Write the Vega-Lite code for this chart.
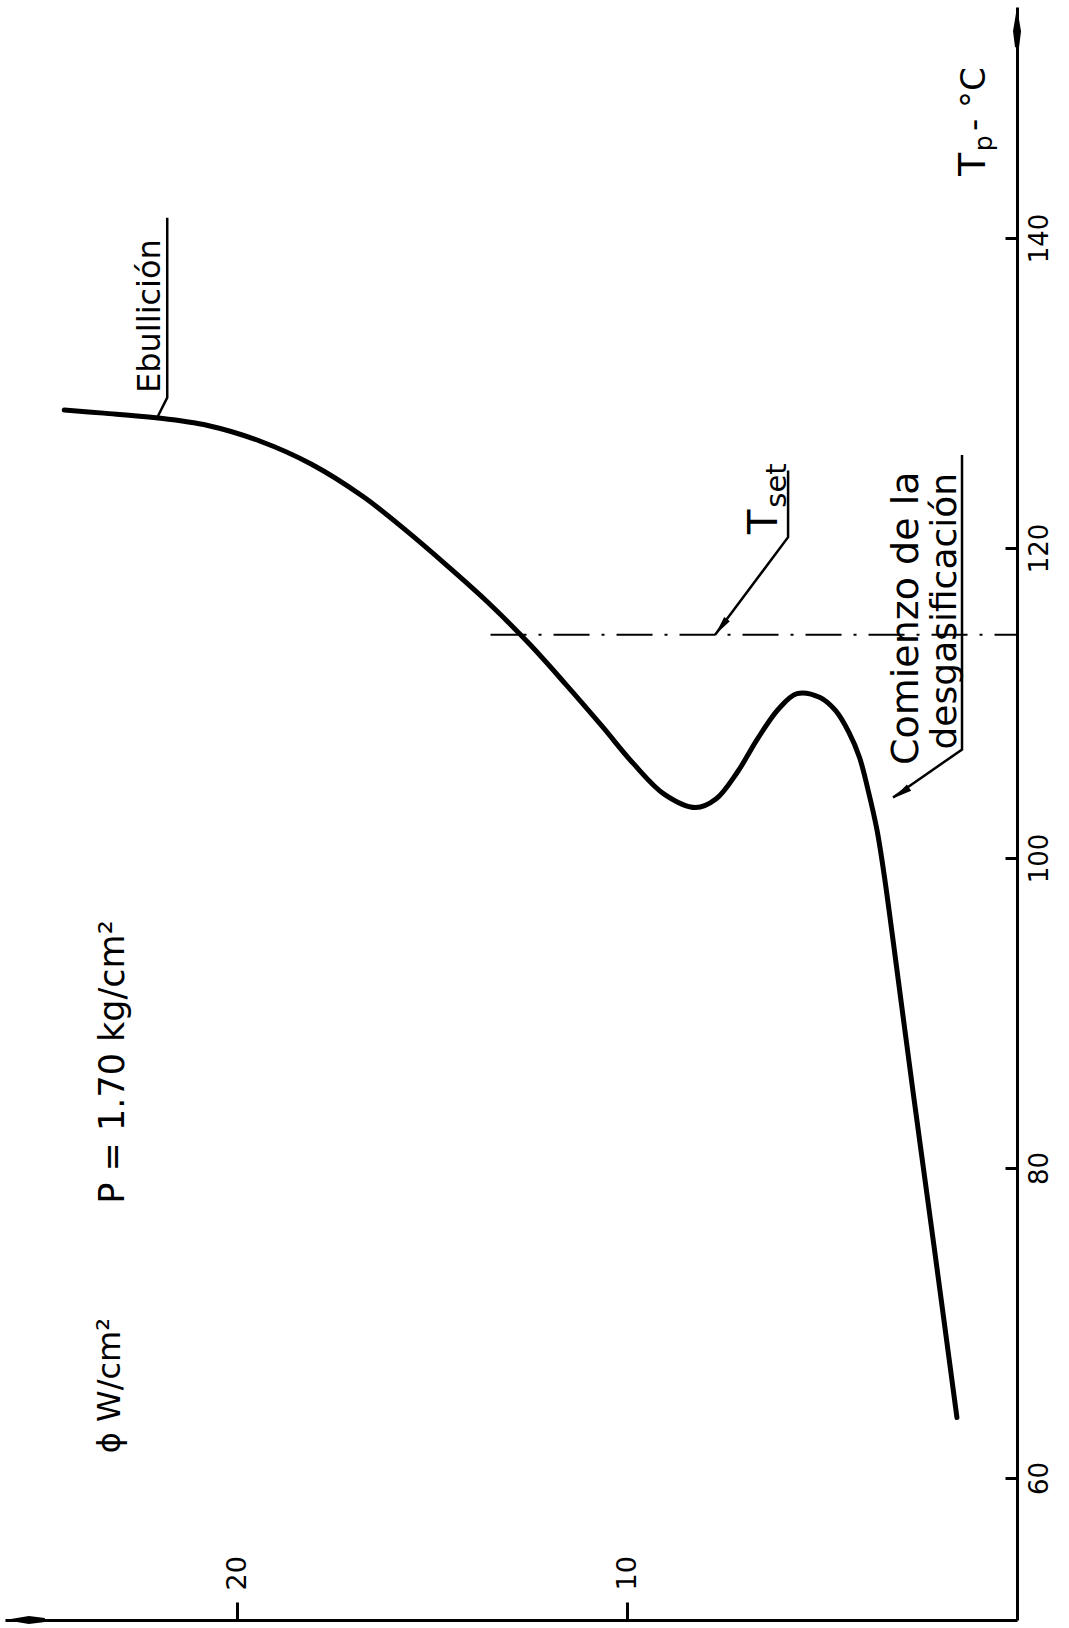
{
  "$schema": "https://vega.github.io/schema/vega-lite/v6.json",
  "width": 1012,
  "height": 1613,
  "autosize": "none",
  "padding": {"left": 5, "top": 7, "right": 52, "bottom": 8},
  "background": "white",
  "config": {
    "view": {"stroke": null},
    "text": {"font": "DejaVu Sans", "color": "black"}
  },
  "encoding": {
    "x": {
      "field": "phi", "type": "quantitative",
      "scale": {"domain": [0, 25.95], "reverse": true, "nice": false, "zero": false},
      "axis": {
        "orient": "bottom", "title": null, "grid": false, "values": [10, 20],
        "domainColor": "black", "domainWidth": 3,
        "tickColor": "black", "tickWidth": 3, "tickSize": -18,
        "labelAngle": -90, "labelAlign": "left", "labelBaseline": "middle",
        "labelPadding": -12, "labelFontSize": 27, "labelFont": "DejaVu Sans",
        "labelColor": "black", "labelFlush": false, "labelOverlap": false
      }
    },
    "y": {
      "field": "T", "type": "quantitative",
      "scale": {"domain": [50.84, 154.9], "nice": false, "zero": false},
      "axis": {
        "orient": "right", "title": null, "grid": false, "values": [60, 80, 100, 120, 140],
        "domainColor": "black", "domainWidth": 3,
        "tickColor": "black", "tickWidth": 3, "tickSize": -12,
        "labelAngle": -90, "labelAlign": "center", "labelBaseline": "top",
        "labelPadding": 21, "labelFontSize": 26, "labelFont": "DejaVu Sans",
        "labelColor": "black", "labelFlush": false, "labelOverlap": false
      }
    }
  },
  "layer": [
    {
      "data": {"values": [
        {"i": 1, "phi": 1.54, "T": 63.9},
        {"i": 2, "phi": 2.13, "T": 75.0},
        {"i": 3, "phi": 2.67, "T": 85.0},
        {"i": 4, "phi": 3.2, "T": 95.1},
        {"i": 5, "phi": 3.38, "T": 98.45},
        {"i": 6, "phi": 3.59, "T": 101.8},
        {"i": 7, "phi": 3.83, "T": 104.5},
        {"i": 8, "phi": 4.04, "T": 106.5},
        {"i": 9, "phi": 4.31, "T": 108.1},
        {"i": 10, "phi": 4.65, "T": 109.5},
        {"i": 11, "phi": 5.05, "T": 110.35},
        {"i": 12, "phi": 5.64, "T": 110.6},
        {"i": 13, "phi": 6.12, "T": 109.6},
        {"i": 14, "phi": 6.65, "T": 107.7},
        {"i": 15, "phi": 7.18, "T": 105.5},
        {"i": 16, "phi": 7.72, "T": 103.8},
        {"i": 17, "phi": 8.24, "T": 103.25},
        {"i": 18, "phi": 9.04, "T": 104.1},
        {"i": 19, "phi": 9.84, "T": 106.1},
        {"i": 20, "phi": 10.64, "T": 108.5},
        {"i": 21, "phi": 11.57, "T": 111.2},
        {"i": 22, "phi": 12.5, "T": 113.8},
        {"i": 23, "phi": 13.57, "T": 116.5},
        {"i": 24, "phi": 14.63, "T": 118.9},
        {"i": 25, "phi": 15.7, "T": 121.2},
        {"i": 26, "phi": 16.76, "T": 123.3},
        {"i": 27, "phi": 18.09, "T": 125.4},
        {"i": 28, "phi": 19.42, "T": 126.9},
        {"i": 29, "phi": 20.75, "T": 127.9},
        {"i": 30, "phi": 22.08, "T": 128.4},
        {"i": 31, "phi": 23.42, "T": 128.7},
        {"i": 32, "phi": 24.43, "T": 128.9}
      ]},
      "mark": {"type": "line", "color": "black", "strokeWidth": 5, "interpolate": "catmull-rom", "strokeCap": "round", "strokeJoin": "round"},
      "encoding": {"order": {"field": "i", "type": "quantitative"}}
    },
    {
      "data": {"values": [
        {"i": 1, "phi": 13.5, "T": 114.4},
        {"i": 2, "phi": 0, "T": 114.4}
      ]},
      "mark": {"type": "line", "color": "black", "strokeWidth": 2, "strokeDash": [36, 12, 3, 12]},
      "encoding": {"order": {"field": "i", "type": "quantitative"}}
    },
    {
      "data": {"values": [
        {"g": "eb", "i": 1, "phi": 22.03, "T": 128.5},
        {"g": "eb", "i": 2, "phi": 21.79, "T": 129.7},
        {"g": "eb", "i": 3, "phi": 21.79, "T": 141.3},
        {"g": "ts", "i": 1, "phi": 5.87, "T": 125.0},
        {"g": "ts", "i": 2, "phi": 5.87, "T": 120.7},
        {"g": "ts", "i": 3, "phi": 7.74, "T": 114.4},
        {"g": "co", "i": 1, "phi": 1.41, "T": 126.0},
        {"g": "co", "i": 2, "phi": 1.41, "T": 107.0},
        {"g": "co", "i": 3, "phi": 3.18, "T": 103.9}
      ]},
      "mark": {"type": "line", "color": "black", "strokeWidth": 2.5},
      "encoding": {
        "detail": {"field": "g", "type": "nominal"},
        "order": {"field": "i", "type": "quantitative"}
      }
    },
    {
      "data": {"values": [{"phi": 7.59, "T": 114.9}]},
      "mark": {"type": "point", "shape": "M0,-1L0.35,1L-0.35,1Z", "angle": 217, "size": 400, "filled": true, "color": "black", "opacity": 1}
    },
    {
      "data": {"values": [{"phi": 2.97, "T": 104.2}]},
      "mark": {"type": "point", "shape": "M0,-1L0.4,1L-0.4,1Z", "angle": 236, "size": 360, "filled": true, "color": "black", "opacity": 1}
    },
    {
      "data": {"values": [{"phi": 0, "T": 153.6}]},
      "mark": {"type": "point", "shape": "M0,-1L0.2,0.2L0.1,1L-0.1,1L-0.2,0.2Z", "angle": 0, "size": 1600, "filled": true, "color": "black", "opacity": 1}
    },
    {
      "data": {"values": [{"phi": 25.44, "T": 50.84}]},
      "mark": {"type": "point", "shape": "M0,-1L0.2,0.2L0.1,1L-0.1,1L-0.2,0.2Z", "angle": 270, "size": 1600, "filled": true, "color": "black", "opacity": 1}
    },
    {
      "data": {"values": [{"phi": 21.97, "T": 130.0, "label": "Ebullición"}]},
      "mark": {"type": "text", "angle": 270, "align": "left", "baseline": "alphabetic", "fontSize": 32},
      "encoding": {"text": {"field": "label"}}
    },
    {
      "data": {"values": [{"phi": 6.15, "T": 120.9, "label": "T"}]},
      "mark": {"type": "text", "angle": 270, "align": "left", "baseline": "alphabetic", "fontSize": 40},
      "encoding": {"text": {"field": "label"}}
    },
    {
      "data": {"values": [{"phi": 5.92, "T": 122.6, "label": "set"}]},
      "mark": {"type": "text", "angle": 270, "align": "left", "baseline": "alphabetic", "fontSize": 29},
      "encoding": {"text": {"field": "label"}}
    },
    {
      "data": {"values": [{"phi": 2.54, "T": 106.0, "label": "Comienzo de la"}]},
      "mark": {"type": "text", "angle": 270, "align": "left", "baseline": "alphabetic", "fontSize": 38},
      "encoding": {"text": {"field": "label"}}
    },
    {
      "data": {"values": [{"phi": 1.56, "T": 107.0, "label": "desgasificación"}]},
      "mark": {"type": "text", "angle": 270, "align": "left", "baseline": "alphabetic", "fontSize": 36},
      "encoding": {"text": {"field": "label"}}
    },
    {
      "data": {"values": [{"phi": 22.9, "T": 77.7, "label": "P = 1.70 kg/cm²"}]},
      "mark": {"type": "text", "angle": 270, "align": "left", "baseline": "alphabetic", "fontSize": 35},
      "encoding": {"text": {"field": "label"}}
    },
    {
      "data": {"values": [{"phi": 23.0, "T": 61.6, "label": "ϕ  W/cm²"}]},
      "mark": {"type": "text", "angle": 270, "align": "left", "baseline": "alphabetic", "fontSize": 32},
      "encoding": {"text": {"field": "label"}}
    },
    {
      "data": {"values": [{"phi": 0.82, "T": 144.0, "label": "T"}]},
      "mark": {"type": "text", "angle": 270, "align": "left", "baseline": "alphabetic", "fontSize": 38},
      "encoding": {"text": {"field": "label"}}
    },
    {
      "data": {"values": [{"phi": 0.64, "T": 145.6, "label": "p"}]},
      "mark": {"type": "text", "angle": 270, "align": "left", "baseline": "alphabetic", "fontSize": 25},
      "encoding": {"text": {"field": "label"}}
    },
    {
      "data": {"values": [{"phi": 0.82, "T": 146.9, "label": "- °C"}]},
      "mark": {"type": "text", "angle": 270, "align": "left", "baseline": "alphabetic", "fontSize": 34},
      "encoding": {"text": {"field": "label"}}
    }
  ]
}
